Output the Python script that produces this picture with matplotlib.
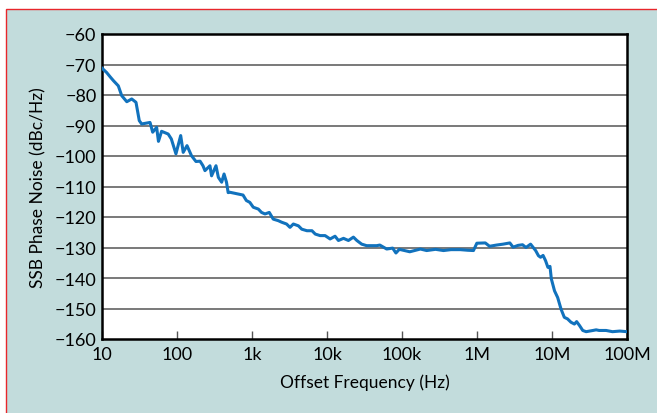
import matplotlib.pyplot as plt
import matplotlib.patches as patches
import numpy as np

# offset frequency (Hz) and SSB phase noise (dBc/Hz)
freq = [10, 11.5, 13, 14.2, 16.5, 18.3, 21.4, 24.9, 28.4, 31.4, 33.8, 43.7,
        47.4, 53.5, 56.6, 62.3, 76.3, 84, 96.8, 112, 121, 136, 156, 179,
        203, 222, 236, 275, 289, 331, 356, 394, 424, 457, 481, 509, 759,
        841, 935, 1040, 1215, 1340, 1490, 1700, 1920, 2240, 2480, 2890,
        3210, 3560, 4160, 4610, 5400, 6300, 6980, 8090, 9430, 11000,
        12800, 14200, 16600, 19300, 22500, 25000, 29000, 33800, 46000,
        50600, 62500, 75000, 83000, 92000, 127000, 176000, 213000,
        280000, 357000, 450000, 598000, 750000, 897000, 995000, 1290000,
        1470000, 1820000, 2230000, 2740000, 3030000, 3530000, 4050000,
        4500000, 5180000, 6050000, 6600000, 7040000, 7600000, 8200000,
        8820000, 9400000, 9800000, 10800000, 11900000, 13200000,
        14600000, 16100000, 17900000, 19900000, 21300000, 23300000,
        25700000, 28500000, 35200000, 38800000, 42500000, 52600000,
        64000000, 80000000, 100000000]
noise = [-71.2, -72.6, -74.2, -75.3, -77.0, -80.2, -82.2, -81.3, -82.4,
         -88.4, -89.5, -89.0, -92.2, -90.6, -95.2, -91.9, -92.8, -94.4,
         -99.3, -93.3, -98.8, -96.6, -99.9, -101.8, -101.7, -103.2, -104.8,
         -103.2, -106.5, -103.2, -107.0, -108.6, -105.9, -108.6, -112.0,
         -111.9, -112.8, -114.6, -115.2, -116.8, -117.4, -118.5, -119.0,
         -118.5, -120.7, -121.2, -121.7, -122.3, -123.4, -122.3, -122.9,
         -124.0, -124.5, -124.5, -125.6, -126.1, -126.1, -127.2, -126.3,
         -127.7, -127.0, -127.7, -126.6, -127.7, -128.9, -129.4, -129.4,
         -129.2, -130.5, -130.2, -131.8, -130.6, -131.4, -130.5, -131.0,
         -130.6, -131.0, -130.7, -130.7, -130.9, -131.0, -128.6, -128.5,
         -129.6, -129.2, -128.9, -128.5, -129.9, -129.3, -129.1, -130.0,
         -128.9, -131.0, -132.7, -133.2, -132.6, -134.3, -136.5, -136.2,
         -140.3, -144.2, -146.4, -150.2, -152.9, -153.4, -154.5, -155.1,
         -154.3, -155.6, -157.2, -157.6, -157.2, -157.0, -157.2, -157.2,
         -157.6, -157.4, -157.6]

decades = [10, 100, 1e3, 1e4, 1e5, 1e6, 1e7, 1e8]
decade_labels = ['10', '100', '1k', '10k', '100k', '1M', '10M', '100M']
db_ticks = [-60, -70, -80, -90, -100, -110, -120, -130, -140, -150, -160]

plt.rcParams['font.family'] = ['Lato', 'DejaVu Sans']

fig = plt.figure(figsize=(6.57, 4.14), dpi=100, facecolor='white')

# background panel, red border only on left/top
bg = patches.Rectangle((6 / 657, -0.1), 1.2, 1.1 - 10 / 414,
                       transform=fig.transFigure, facecolor='#c2dcdc',
                       edgecolor='#e8262b', linewidth=1.0, zorder=0)
fig.add_artist(bg)

ax = fig.add_axes([102 / 657, 1 - 340 / 414, 525 / 657, 305 / 414])
ax.set_facecolor('white')
ax.semilogx(freq, noise, color='#1172bd', linewidth=2.2, zorder=3,
            solid_joinstyle='round')

ax.set_xlim(10, 1e8)
ax.set_ylim(-160, -60)
ax.set_xticks(decades)
ax.set_xticklabels(decade_labels)
ax.xaxis.set_minor_locator(plt.NullLocator())
ax.set_yticks(db_ticks)
ax.set_yticklabels(['\u2212' + str(abs(v)) for v in db_ticks])

for v in db_ticks[1:-1]:
    ax.axhline(v, color='#6e6e6e', linewidth=1.3, zorder=1)

ax.tick_params(axis='x', direction='in', length=6, width=1, color='#555555',
               labelsize=13, pad=5)
ax.tick_params(axis='y', length=0, labelsize=13, pad=4)
for s in ax.spines.values():
    s.set_linewidth(1.8)
    s.set_color('black')

ax.set_xlabel('Offset Frequency (Hz)', fontsize=12.5, labelpad=8)
ax.set_ylabel('SSB Phase Noise (dBc/Hz)', fontsize=12.5, labelpad=6)

fig.savefig('out.png', dpi=100, facecolor=fig.get_facecolor())
